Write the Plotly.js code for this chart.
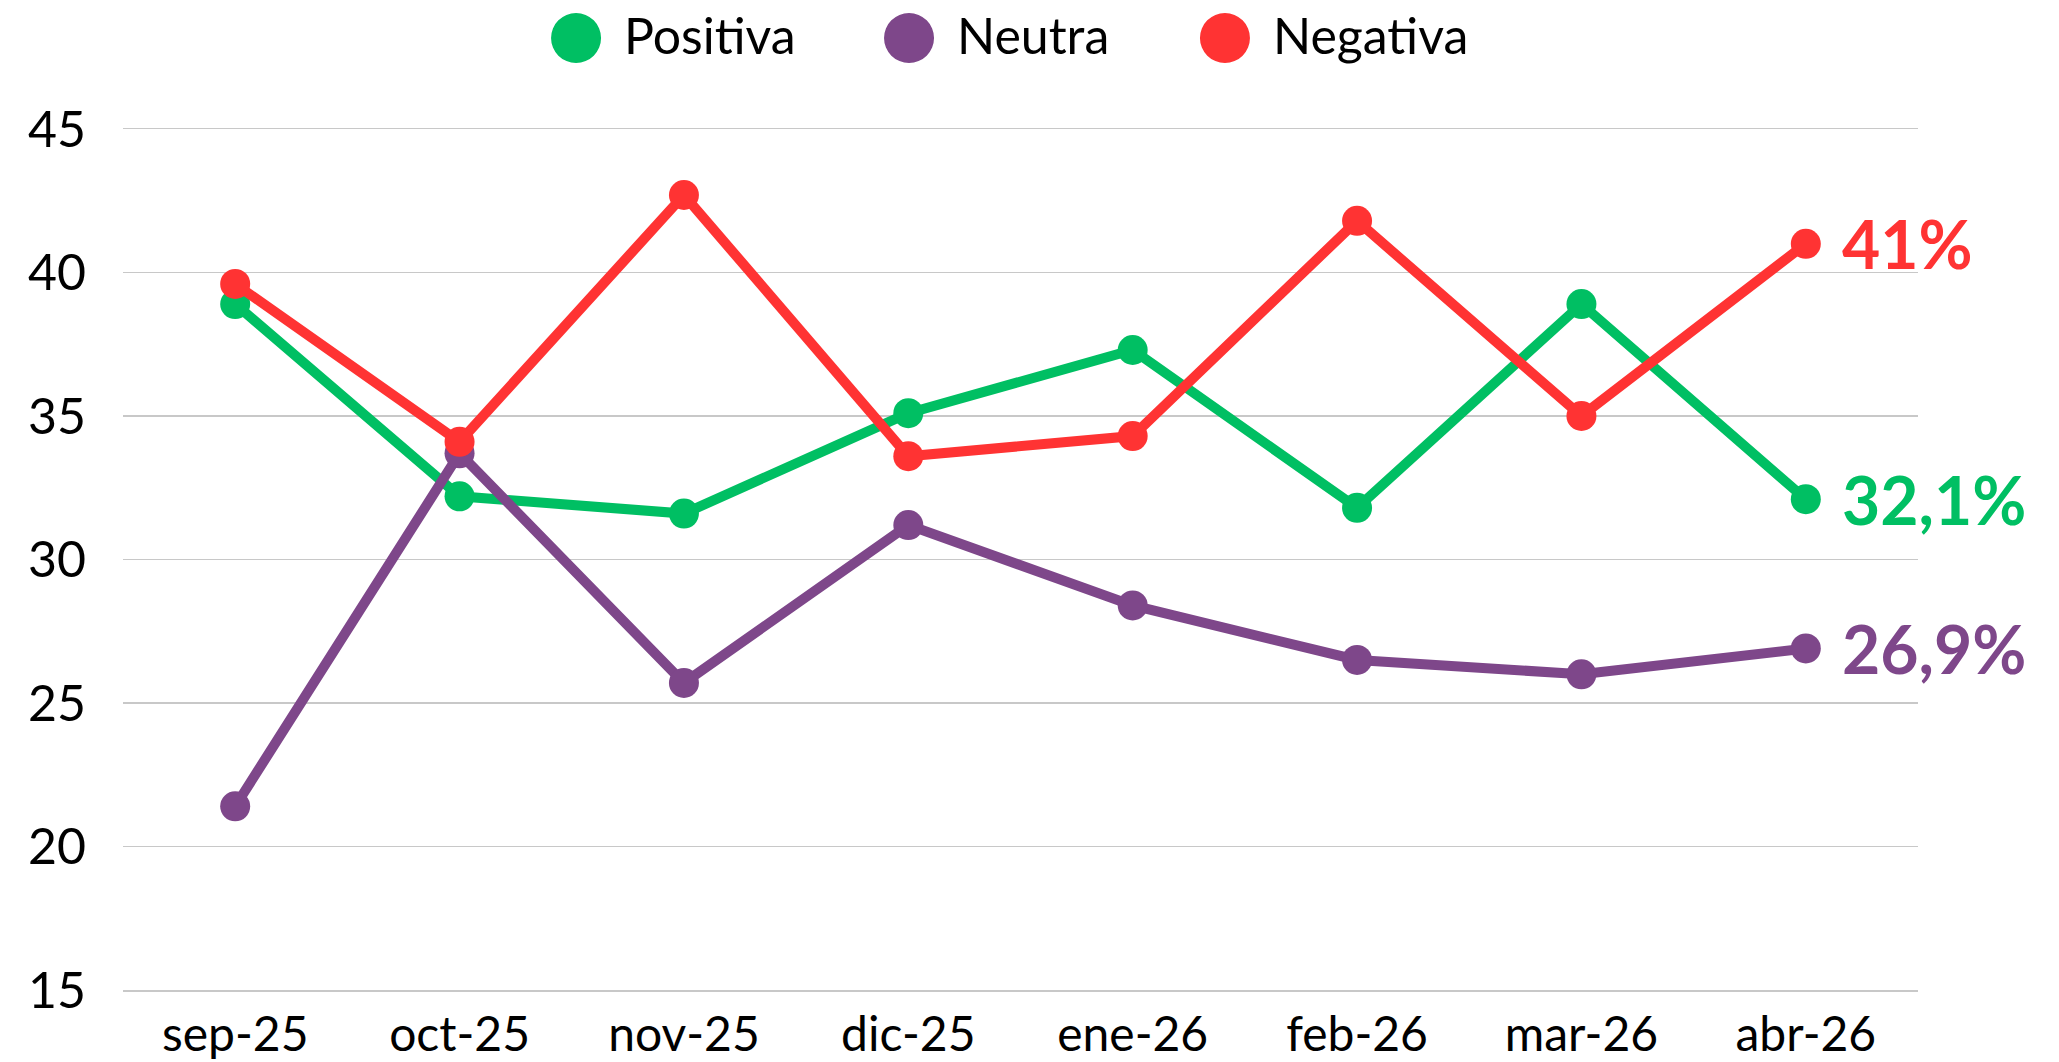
<!DOCTYPE html>
<html>
<head>
<meta charset="utf-8">
<script src="https://cdn.plot.ly/plotly-3.0.1.min.js"></script>
<style>
  html, body { margin: 0; padding: 0; background: #ffffff; }
  #chart { width: 2059px; height: 1062px; }
</style>
</head>
<body>
<div id="chart"></div>
<script>
// ---- data ----
const categories = ["sep-25", "oct-25", "nov-25", "dic-25", "ene-26", "feb-26", "mar-26", "abr-26"];
const positiva = [38.9, 32.2, 31.6, 35.1, 37.3, 31.8, 38.9, 32.1];
const neutra   = [21.4, 33.7, 25.7, 31.2, 28.4, 26.5, 26.0, 26.9];
const negativa = [39.6, 34.1, 42.7, 33.6, 34.3, 41.8, 35.0, 41.0];
const seriesNames = ["Positiva", "Neutra", "Negativa"];
const endLabels = ["32,1%", "26,9%", "41%"];
const yTicks = [15, 20, 25, 30, 35, 40, 45];

// ---- styling ----
const colors = ["#00BF63", "#7E478A", "#FF3333"];
const FONT = "Lato, 'Open Sans', sans-serif";
const series = [positiva, neutra, negativa];

const traces = series.map((vals, i) => ({
  type: "scatter",
  mode: "lines+markers",
  name: seriesNames[i],
  x: categories,
  y: vals,
  line: { color: colors[i], width: 10 },
  marker: { color: colors[i], size: 30 },
  cliponaxis: false,
  hoverinfo: "x+y+name"
}));

const annotations = series.map((vals, i) => ({
  x: categories[categories.length - 1],
  y: vals[vals.length - 1],
  xref: "x", yref: "y",
  text: "<b>" + endLabels[i] + "</b>",
  showarrow: false,
  xanchor: "left", yanchor: "middle",
  xshift: 34,
  font: { family: FONT, size: 66, color: colors[i] }
}));

// legend drawn manually (large circles)
const legendCircleX = [0.2524, 0.4379, 0.6139];
const legendTextX = [0.2780, 0.4635, 0.6395];
const legendY = 1.1057;
const shapes = [];
seriesNames.forEach((nm, i) => {
  shapes.push({
    type: "circle", xref: "paper", yref: "paper",
    xsizemode: "pixel", ysizemode: "pixel",
    xanchor: legendCircleX[i], yanchor: legendY,
    x0: -25, x1: 25, y0: -25, y1: 25,
    fillcolor: colors[i], line: { width: 0 }
  });
  annotations.push({
    x: legendTextX[i], y: legendY, xref: "paper", yref: "paper",
    text: nm, showarrow: false, xanchor: "left", yanchor: "middle",
    yshift: 3,
    font: { family: FONT, size: 50, color: "#000000" }
  });
});

const layout = {
  width: 2059, height: 1062,
  margin: { l: 123, r: 141, t: 129, b: 72, pad: 0 },
  paper_bgcolor: "#ffffff", plot_bgcolor: "#ffffff",
  showlegend: false,
  font: { family: FONT, size: 48, color: "#000000" },
  xaxis: {
    type: "category",
    range: [-0.5, 7.5],
    showgrid: false, zeroline: false,
    showline: true, mirror: true, linecolor: "#c8c8c8", linewidth: 1.5,
    ticks: "", ticklabelstandoff: 2,
    tickfont: { family: FONT, size: 48, color: "#000000" }
  },
  yaxis: {
    range: [15, 45],
    tickvals: yTicks,
    showgrid: true, gridcolor: "#c8c8c8", gridwidth: 1.5,
    zeroline: false, showline: false,
    ticks: "", ticklabelstandoff: 36,
    tickfont: { family: FONT, size: 50, color: "#000000" }
  },
  shapes: shapes,
  annotations: annotations
};

Plotly.newPlot("chart", traces, layout, { displayModeBar: false, staticPlot: true });
</script>
</body>
</html>
